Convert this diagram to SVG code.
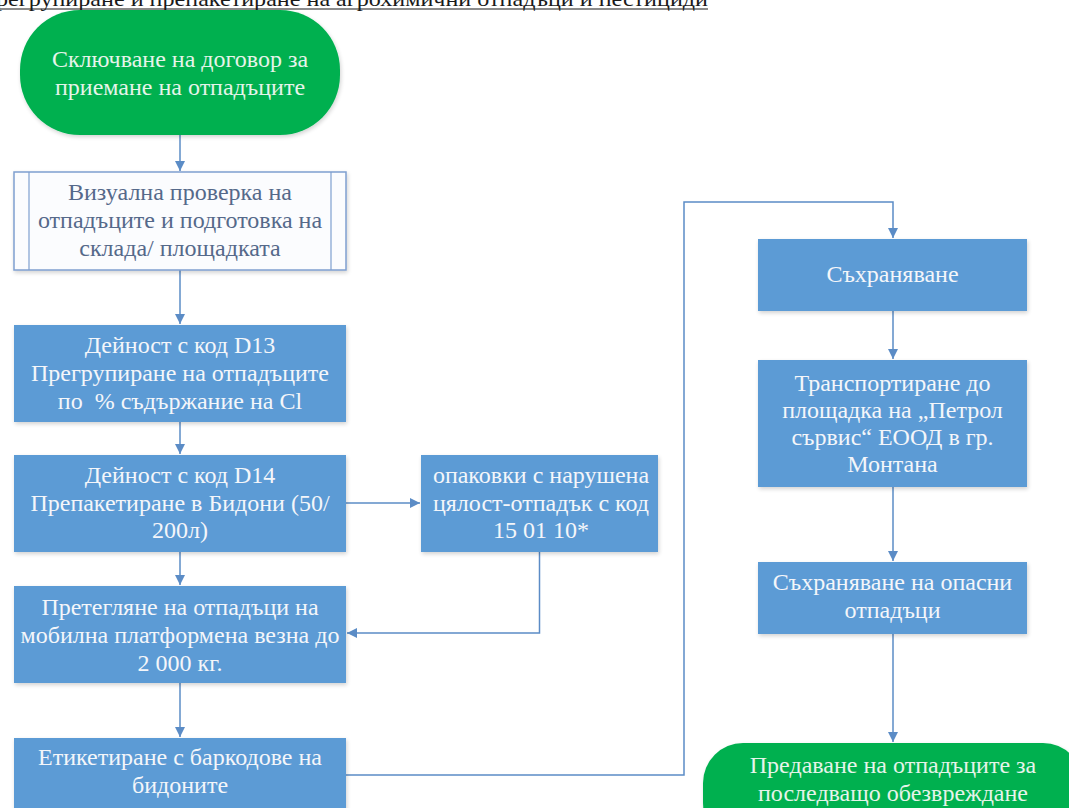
<svg xmlns="http://www.w3.org/2000/svg" width="1069" height="808" viewBox="0 0 1069 808">
<defs>
<style>
.t{font-family:"Liberation Serif","Times New Roman",serif;font-size:24px;text-anchor:middle}
.w{fill:#f4f6fa}
.g{fill:#e6f4ea}
.d{fill:#55698a}
.box{fill:#5b9bd5;filter:url(#sh)}
.term{fill:#00b050;filter:url(#sh)}
.con{fill:none;stroke:#5b8cc6;stroke-width:1.5}
</style>
<filter id="sh" x="-10%" y="-10%" width="130%" height="130%">
<feGaussianBlur in="SourceAlpha" stdDeviation="2"/>
<feOffset dx="1" dy="2" result="b"/>
<feComponentTransfer><feFuncA type="linear" slope="0.18"/></feComponentTransfer>
<feMerge><feMergeNode/><feMergeNode in="SourceGraphic"/></feMerge>
</filter>
<marker id="ah" viewBox="0 0 10 10" refX="10" refY="5" markerWidth="10" markerHeight="10" markerUnits="userSpaceOnUse" orient="auto">
<path d="M0,0 L10,5 L0,10 z" fill="#5b8cc6"/>
</marker>
</defs>
<rect width="1069" height="808" fill="#ffffff"/>

<g id="title">
<text x="-4" y="6" font-family="Liberation Serif, Times New Roman, serif" font-size="22" fill="#1a1a1a" textLength="712" lengthAdjust="spacingAndGlyphs">регрупиране и препакетиране на агрохимични отпадъци и пестициди</text>
<line x1="0" y1="9" x2="708" y2="9" stroke="#1a1a1a" stroke-width="1.2"/>
</g>

<g id="connectors">
<path class="con" d="M180,135 V171" marker-end="url(#ah)"/>
<path class="con" d="M180,270 V324" marker-end="url(#ah)"/>
<path class="con" d="M180,422 V454" marker-end="url(#ah)"/>
<path class="con" d="M180,552 V585" marker-end="url(#ah)"/>
<path class="con" d="M180,683 V737" marker-end="url(#ah)"/>
<path class="con" d="M346,503 H420" marker-end="url(#ah)"/>
<path class="con" d="M539.5,552 V633 H347" marker-end="url(#ah)"/>
<path class="con" d="M346,775 H684 V202 H893 V238" marker-end="url(#ah)"/>
<path class="con" d="M893,311 V359" marker-end="url(#ah)"/>
<path class="con" d="M893,487 V561" marker-end="url(#ah)"/>
<path class="con" d="M893,634 V742" marker-end="url(#ah)"/>
</g>

<g id="start">
<rect class="term" x="20" y="10" width="320" height="125" rx="60" ry="60"/>
<text class="t g" x="180" y="67">Сключване на договор за</text>
<text class="t g" x="180" y="95">приемане на отпадъците</text>
</g>

<g id="visual-check">
<rect x="14" y="172" width="332" height="98" fill="#fbfcfe" stroke="#7f9fcf" stroke-width="1.5" filter="url(#sh)"/>
<line x1="29" y1="172" x2="29" y2="270" stroke="#7f9fcf" stroke-width="1.2"/>
<line x1="331" y1="172" x2="331" y2="270" stroke="#7f9fcf" stroke-width="1.2"/>
<text class="t d" x="180" y="200">Визуална проверка на</text>
<text class="t d" x="180" y="228">отпадъците и подготовка на</text>
<text class="t d" x="180" y="256">склада/ площадката</text>
</g>

<g id="d13">
<rect class="box" x="14" y="325" width="332" height="97"/>
<text class="t w" x="180" y="353">Дейност с код D13</text>
<text class="t w" x="180" y="381">Прегрупиране на отпадъците</text>
<text class="t w" x="180" y="409">по &#160;% съдържание на Cl</text>
</g>

<g id="d14">
<rect class="box" x="14" y="455" width="332" height="97"/>
<text class="t w" x="180" y="483">Дейност с код D14</text>
<text class="t w" x="180" y="511">Препакетиране в Бидони (50/</text>
<text class="t w" x="180" y="538">200л)</text>
</g>

<g id="packaging-waste">
<rect class="box" x="421" y="455" width="237" height="97"/>
<text class="t w" x="541" y="483">опаковки с нарушена</text>
<text class="t w" x="541" y="511">цялост-отпадък с код</text>
<text class="t w" x="541" y="538">15 01 10*</text>
</g>

<g id="weighing">
<rect class="box" x="14" y="586" width="332" height="97"/>
<text class="t w" x="180" y="615">Претегляне на отпадъци на</text>
<text class="t w" x="180" y="643">мобилна платформена везна до</text>
<text class="t w" x="180" y="671">2 000 кг.</text>
</g>

<g id="labeling">
<rect class="box" x="14" y="738" width="332" height="80"/>
<text class="t w" x="180" y="765">Етикетиране с баркодове на</text>
<text class="t w" x="180" y="793">бидоните</text>
</g>

<g id="storage">
<rect class="box" x="758" y="239" width="269" height="72"/>
<text class="t w" x="892.5" y="282">Съхраняване</text>
</g>

<g id="transport">
<rect class="box" x="758" y="360" width="269" height="127"/>
<text class="t w" x="892.5" y="391">Транспортиране до</text>
<text class="t w" x="892.5" y="418">площадка на „Петрол</text>
<text class="t w" x="892.5" y="445">сървис“ ЕООД в гр.</text>
<text class="t w" x="892.5" y="472">Монтана</text>
</g>

<g id="hazardous-storage">
<rect class="box" x="758" y="562" width="269" height="72"/>
<text class="t w" x="892.5" y="590">Съхраняване на опасни</text>
<text class="t w" x="892.5" y="618">отпадъци</text>
</g>

<g id="end">
<rect class="term" x="703" y="743" width="380" height="100" rx="40" ry="40"/>
<text class="t g" x="893" y="773">Предаване на отпадъците за</text>
<text class="t g" x="893" y="801">последващо обезвреждане</text>
</g>
</svg>
